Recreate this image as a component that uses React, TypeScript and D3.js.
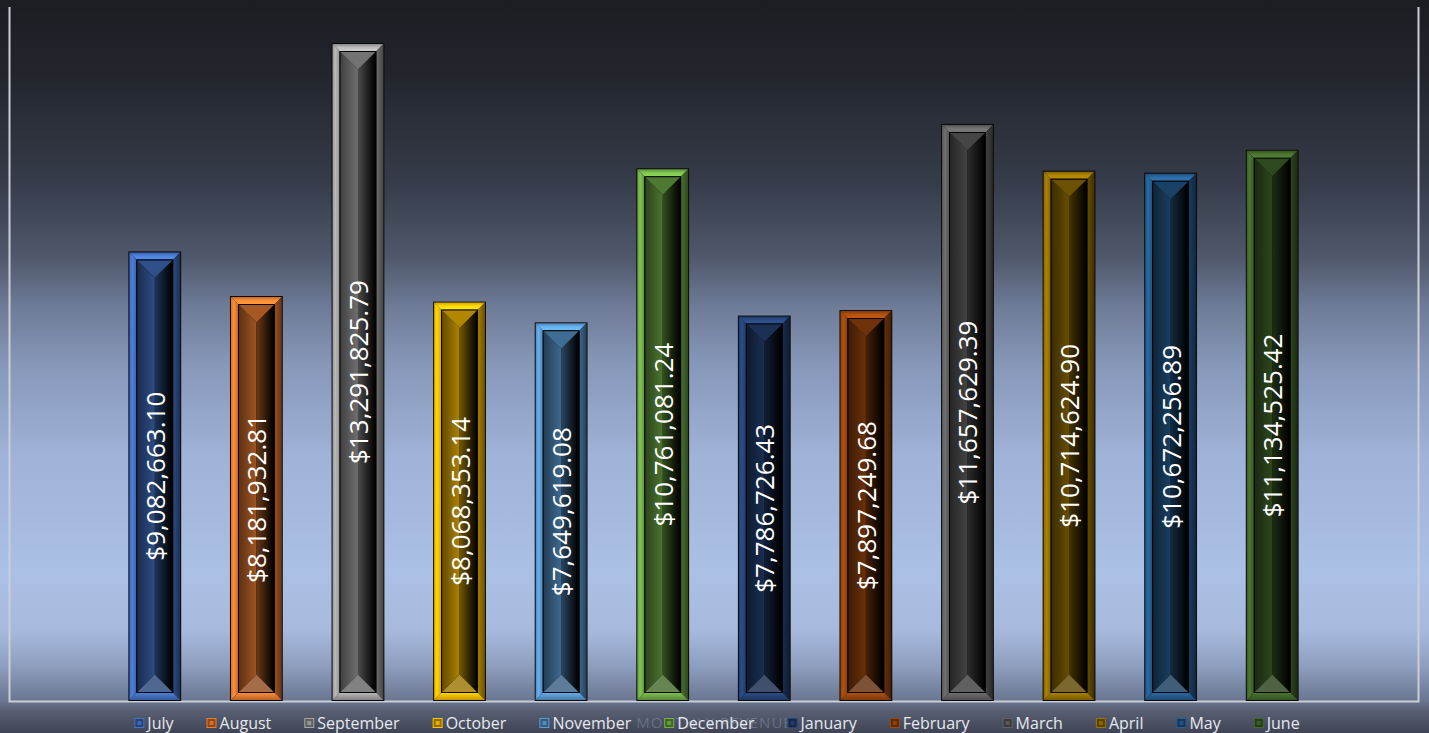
import React, { useMemo } from "react";
import * as d3 from "d3";

const months = ["July", "August", "September", "October", "November", "December", "January", "February", "March", "April", "May", "June"];
const revenue = [9082663.10, 8181932.81, 13291825.79, 8068353.14, 7649619.08, 10761081.24, 7786726.43, 7897249.68, 11657629.39, 10714624.90, 10672256.89, 11134525.42];
const barColors = ["#4472C4", "#ED7D31", "#A5A5A5", "#FFC000", "#5B9BD5", "#70AD47", "#264478", "#9E480E", "#636363", "#997300", "#255E91", "#43682B"];
const yDomainMax = 14000000;
const axisTitle = "MONTHLY REVENUE";

const W = 1429;
const H = 733;
const FONT = "'Open Sans', 'Noto Sans', sans-serif";

const fmt = (v: number) => "$" + d3.format(",.2f")(v);

function shade(c: string, k: number) {
  const col = d3.color(c)!;
  return (k >= 0 ? col.brighter(k) : col.darker(-k)).formatHex();
}

function measure(text: string, font: string) {
  const cv = document.createElement("canvas");
  const ctx = cv.getContext("2d")!;
  ctx.font = font;
  return ctx.measureText(text).width;
}

export default function App() {
  const x = d3.scaleBand<string>().domain(months).range([104, 1323]).paddingInner(0.48).paddingOuter(0.24);
  const y = d3.scaleLinear().domain([0, yDomainMax]).range([701, 8]);

  const legendFontSize = 16;
  const legend = useMemo(() => {
    const font = `${legendFontSize}px "Open Sans"`;
    const items = months.map((m) => ({ m, w: measure(m, font) }));
    const marker = 9, gapMT = 4, gapItem = 33;
    const total = d3.sum(items, (d) => marker + gapMT + d.w) + gapItem * (items.length - 1);
    let cx = 717 - total / 2;
    return items.map((d, i) => {
      const o = { ...d, x: cx, i };
      cx += marker + gapMT + d.w + gapItem;
      return o;
    });
  }, []);

  const t = 8;

  return (
    <svg width={W} height={H} style={{ position: "absolute", left: 0, top: 0, display: "block" }} fontFamily={FONT}>
      <defs>
        <linearGradient id="bg" x1="0" y1="0" x2="0" y2="1">
          <stop offset="0" stopColor="#1b1d22" />
          <stop offset="0.1" stopColor="#22252c" />
          <stop offset="0.25" stopColor="#363c4a" />
          <stop offset="0.35" stopColor="#4f586b" />
          <stop offset="0.42" stopColor="#6f7c98" />
          <stop offset="0.5" stopColor="#8798b9" />
          <stop offset="0.62" stopColor="#9fb2d7" />
          <stop offset="0.78" stopColor="#abc0e5" />
          <stop offset="0.86" stopColor="#a7badd" />
          <stop offset="0.91" stopColor="#8d9dbd" />
          <stop offset="0.955" stopColor="#6b7791" />
          <stop offset="0.97" stopColor="#585f72" />
          <stop offset="1" stopColor="#3e4454" />
        </linearGradient>
        {barColors.map((c, i) => (
          <React.Fragment key={i}>
            <linearGradient id={`inL${i}`} x1="0" y1="0" x2="1" y2="0">
              <stop offset="0" stopColor={shade(c, -2.6)} />
              <stop offset="0.6" stopColor={shade(c, -1.6)} />
              <stop offset="1" stopColor={shade(c, -1.1)} />
            </linearGradient>
            <linearGradient id={`inR${i}`} x1="0" y1="0" x2="1" y2="0">
              <stop offset="0" stopColor={shade(c, -2.2)} />
              <stop offset="1" stopColor="#000000" />
            </linearGradient>
            <linearGradient id={`frL${i}`} x1="0" y1="0" x2="1" y2="0">
              <stop offset="0" stopColor={shade(c, -0.3)} />
              <stop offset="0.4" stopColor={shade(c, 0.35)} />
              <stop offset="1" stopColor={shade(c, -0.4)} />
            </linearGradient>
            <linearGradient id={`frT${i}`} x1="0" y1="0" x2="0" y2="1">
              <stop offset="0" stopColor={shade(c, -0.5)} />
              <stop offset="0.5" stopColor={shade(c, 0.4)} />
              <stop offset="1" stopColor={shade(c, 0.6)} />
            </linearGradient>
            <linearGradient id={`frB${i}`} x1="0" y1="0" x2="0" y2="1">
              <stop offset="0" stopColor={shade(c, 0.3)} />
              <stop offset="1" stopColor={shade(c, -0.7)} />
            </linearGradient>
            <linearGradient id={`frR${i}`} x1="0" y1="0" x2="1" y2="0">
              <stop offset="0" stopColor={shade(c, -1.2)} />
              <stop offset="1" stopColor={shade(c, -2.4)} />
            </linearGradient>
          </React.Fragment>
        ))}
      </defs>
      <rect x={0} y={0} width={W} height={H} fill="url(#bg)" />

      {/* plot border */}
      <path d={`M9.5,7 V701.5 H1418.5 V7`} fill="none" stroke="#c9ced8" strokeWidth={2} />

      {months.map((m, i) => {
        const v = revenue[i];
        const c = barColors[i];
        const x0 = x(m)!;
        const w = x.bandwidth();
        const y0 = y(v);
        const y1 = y(0);
        const h = y1 - y0;
        const xi = x0 + t + 1;
        const yi = y0 + t + 1;
        const wi = w - 2 * t - 2;
        const hi = h - 2 * t - 2;
        const cx = x0 + w / 2;
        const d = wi * 0.5;
        const pts = (a: number[][]) => a.map((p) => p.join(",")).join(" ");
        return (
          <g key={m}>
            <rect x={x0} y={y0} width={w} height={h} fill="#0a0a0a" />
            <polygon points={pts([[x0 + 1, y0 + 1], [x0 + w - 1, y0 + 1], [x0 + w - t, y0 + t], [x0 + t, y0 + t]])} fill={`url(#frT${i})`} />
            <polygon points={pts([[x0 + 1, y0 + 1], [x0 + t, y0 + t], [x0 + t, y1 - t], [x0 + 1, y1 - 1]])} fill={`url(#frL${i})`} />
            <polygon points={pts([[x0 + w - 1, y0 + 1], [x0 + w - t, y0 + t], [x0 + w - t, y1 - t], [x0 + w - 1, y1 - 1]])} fill={`url(#frR${i})`} />
            <polygon points={pts([[x0 + 1, y1 - 1], [x0 + w - 1, y1 - 1], [x0 + w - t, y1 - t], [x0 + t, y1 - t]])} fill={`url(#frB${i})`} />
            <rect x={x0 + t} y={y0 + t} width={w - 2 * t} height={h - 2 * t} fill="#050505" />
            <polygon points={pts([[xi, yi], [cx, yi + d], [cx, yi + hi - d], [xi, yi + hi]])} fill={`url(#inL${i})`} />
            <polygon points={pts([[xi + wi, yi], [cx, yi + d], [cx, yi + hi - d], [xi + wi, yi + hi]])} fill={`url(#inR${i})`} />
            <polygon points={pts([[xi, yi], [xi + wi, yi], [cx, yi + d]])} fill={shade(c, -1.0)} />
            <polygon points={pts([[xi, yi + hi], [xi + wi, yi + hi], [cx, yi + hi - d]])} fill={shade(d3.interpolateRgb(c, "#8a8a8a")(0.4), -0.5)} />
            <text
              transform={`translate(${cx},${(y0 + y1) / 2}) rotate(-90)`}
              textAnchor="middle"
              dominantBaseline="central"
              fontSize={26}
              fill="#ffffff"
            >
              {fmt(v)}
            </text>
          </g>
        );
      })}

      <text x={W / 2} y={728} textAnchor="middle" fontSize={15} fill="#8e99b0" opacity={0.45} letterSpacing={1}>
        {axisTitle}
      </text>

      {legend.map((d) => (
        <g key={d.m}>
          <rect x={d.x + 0.5} y={718.5} width={9} height={9} fill={shade(barColors[d.i], -1.5)} stroke={barColors[d.i]} strokeWidth={1} />
          <rect x={d.x + 3} y={721} width={4} height={4} fill={shade(barColors[d.i], -0.3)} />
          <text x={d.x + 13} y={728.5} fontSize={legendFontSize} fill="#e6e9ef">
            {d.m}
          </text>
        </g>
      ))}
    </svg>
  );
}
